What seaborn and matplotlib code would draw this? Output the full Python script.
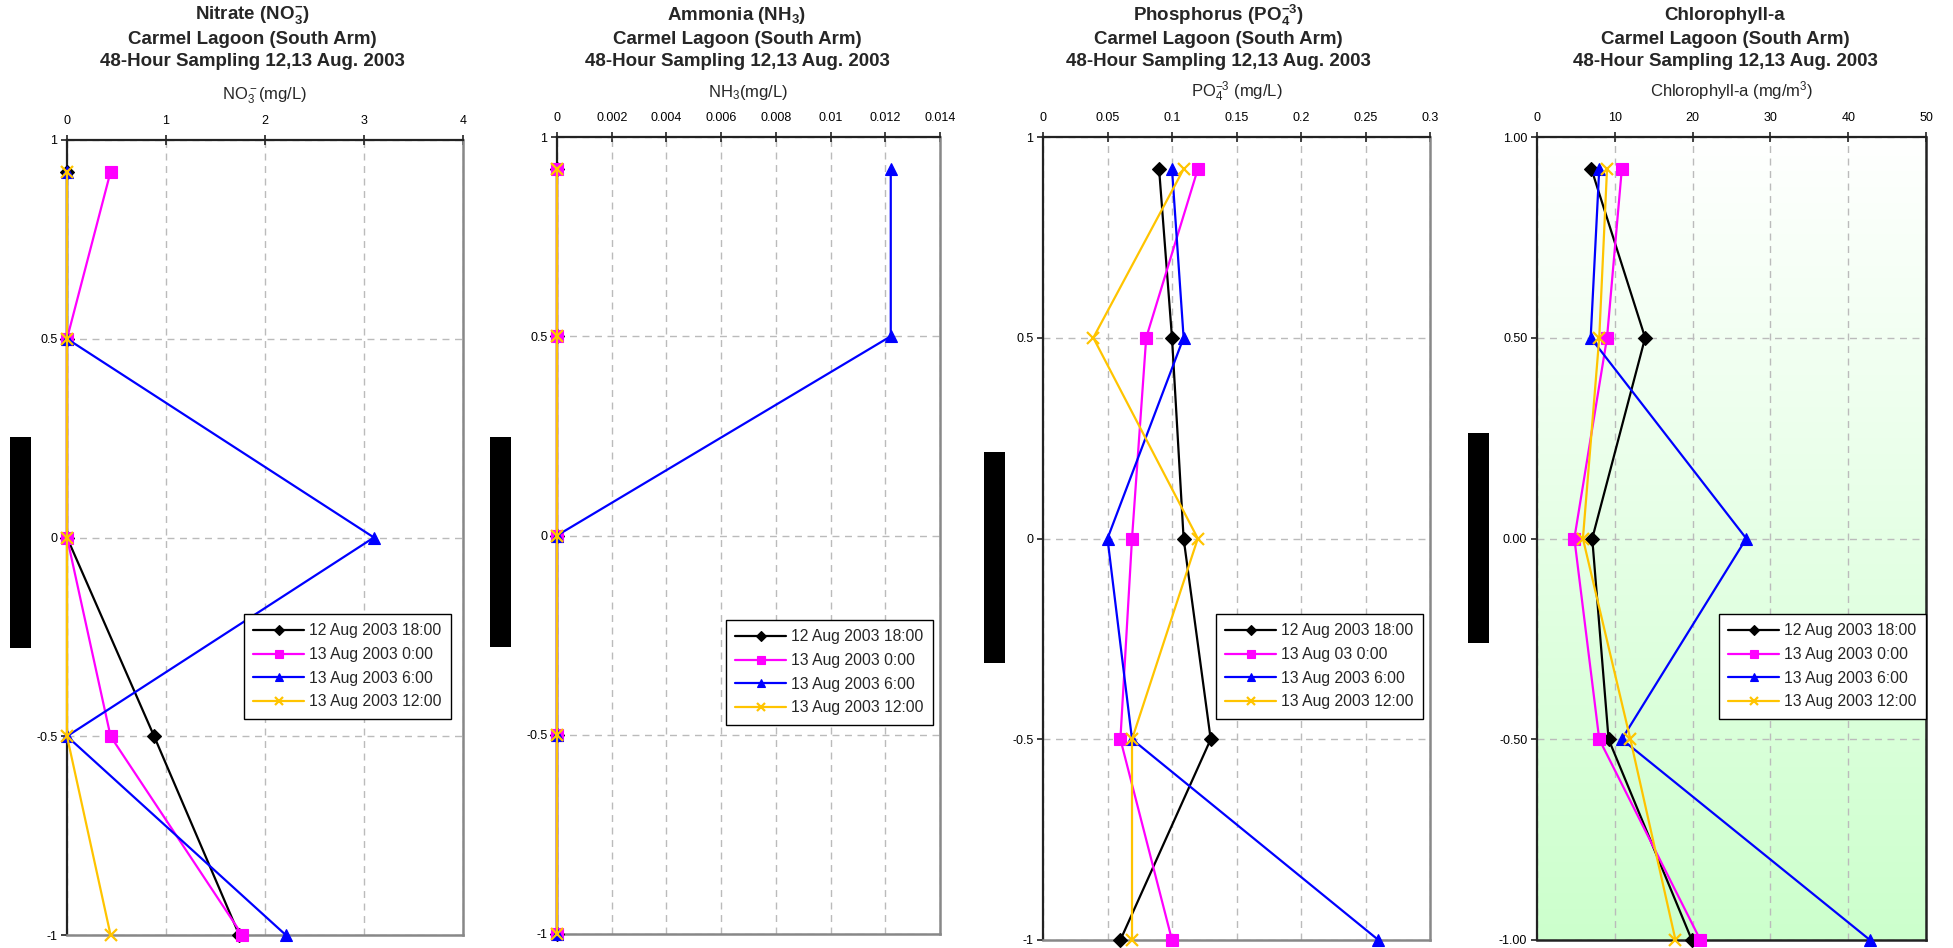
import matplotlib
matplotlib.use("Agg")
import matplotlib.pyplot as plt
import seaborn as sns
import numpy as np
from matplotlib.patches import Rectangle

# ---------------- data ----------------
depths = [0.92, 0.5, 0.0, -0.5, -1.0]
series_labels = ["12 Aug 2003 18:00", "13 Aug 2003 0:00", "13 Aug 2003 6:00", "13 Aug 2003 12:00"]
series_labels_p = ["12 Aug 2003 18:00", "13 Aug 03 0:00", "13 Aug 2003 6:00", "13 Aug 2003 12:00"]

nitrate_1800 = [0.0, 0.0, 0.0, 0.88, 1.74]
nitrate_0000 = [0.44, 0.0, 0.0, 0.44, 1.77]
nitrate_0600 = [0.0, 0.0, 3.10, 0.0, 2.21]
nitrate_1200 = [0.0, 0.0, 0.0, 0.0, 0.44]

ammonia_1800 = [0.0, 0.0, 0.0, 0.0, 0.0]
ammonia_0000 = [0.0, 0.0, 0.0, 0.0, 0.0]
ammonia_0600 = [0.0122, 0.0122, 0.0, 0.0, 0.0]
ammonia_1200 = [0.0, 0.0, 0.0, 0.0, 0.0]

phos_1800 = [0.090, 0.100, 0.109, 0.130, 0.060]
phos_0000 = [0.120, 0.080, 0.069, 0.060, 0.100]
phos_0600 = [0.100, 0.109, 0.050, 0.069, 0.260]
phos_1200 = [0.109, 0.039, 0.120, 0.069, 0.069]

chl_1800 = [7.0, 13.9, 7.1, 9.2, 19.9]
chl_0000 = [10.9, 9.0, 4.8, 8.0, 21.0]
chl_0600 = [8.0, 6.9, 26.9, 10.9, 42.8]
chl_1200 = [9.0, 8.0, 5.9, 12.0, 17.8]

nitrate_ticks = [0, 1, 2, 3, 4]
nitrate_ticklabels = ["0", "1", "2", "3", "4"]
ammonia_ticks = [0, 0.002, 0.004, 0.006, 0.008, 0.01, 0.012, 0.014]
ammonia_ticklabels = ["0", "0.002", "0.004", "0.006", "0.008", "0.01", "0.012", "0.014"]
phos_ticks = [0, 0.05, 0.1, 0.15, 0.2, 0.25, 0.3]
phos_ticklabels = ["0", "0.05", "0.1", "0.15", "0.2", "0.25", "0.3"]
chl_ticks = [0, 10, 20, 30, 40, 50]
chl_ticklabels = ["0", "10", "20", "30", "40", "50"]
depth_ticks = [1, 0.5, 0, -0.5, -1]
depth_ticklabels_a = ["1", "0.5", "0", "-0.5", "-1"]
depth_ticklabels_b = ["1.00", "0.50", "0.00", "-0.50", "-1.00"]

titles = [
    r"Nitrate (NO$_\mathbf{3}^\mathbf{-}$)",
    r"Ammonia (NH$_\mathbf{3}$)",
    r"Phosphorus (PO$_\mathbf{4}^\mathbf{-3}$)",
    "Chlorophyll-a",
]
subtitle1 = "Carmel Lagoon (South Arm)"
subtitle2 = "48-Hour Sampling 12,13 Aug. 2003"
xlabels = [r"NO$_3^-$(mg/L)", r"NH$_3$(mg/L)", r"PO$_4^{-3}$ (mg/L)", r"Chlorophyll-a (mg/m$^3$)"]

# ---------------- style ----------------
sns.set_style("white")
plt.rcParams["font.family"] = ["Liberation Sans", "DejaVu Sans"]
plt.rcParams["mathtext.fontset"] = "custom"
plt.rcParams["mathtext.rm"] = "Liberation Sans"
plt.rcParams["mathtext.it"] = "Liberation Sans:italic"
plt.rcParams["mathtext.bf"] = "Liberation Sans:bold"
plt.rcParams["mathtext.default"] = "regular"

colors = ["#000000", "#FF00FF", "#0000FF", "#FFC400"]
markers = ["D", "s", "^", "x"]
msizes = [7, 8.5, 8.5, 8.5]

W, H = 1953, 948
fig = plt.figure(figsize=(W / 100, H / 100), dpi=100)


def rect(l, t, r, b):
    return [l / W, 1 - b / H, (r - l) / W, (b - t) / H]


panels = [
    dict(rect=(67, 140, 463, 935), data=[nitrate_1800, nitrate_0000, nitrate_0600, nitrate_1200],
         xlim=(0, 4), xt=nitrate_ticks, xtl=nitrate_ticklabels, ytl=depth_ticklabels_a,
         labels=series_labels, leg=(244, 614), title_x=252, bar=(10, 437, 31, 648), green=False),
    dict(rect=(557, 137, 940, 934), data=[ammonia_1800, ammonia_0000, ammonia_0600, ammonia_1200],
         xlim=(0, 0.014), xt=ammonia_ticks, xtl=ammonia_ticklabels, ytl=depth_ticklabels_a,
         labels=series_labels, leg=(726, 620), title_x=737, bar=(490, 437, 511, 647), green=False),
    dict(rect=(1043, 137, 1430, 940), data=[phos_1800, phos_0000, phos_0600, phos_1200],
         xlim=(0, 0.3), xt=phos_ticks, xtl=phos_ticklabels, ytl=depth_ticklabels_a,
         labels=series_labels_p, leg=(1216, 614), title_x=1218, bar=(984, 452, 1005, 663), green=False),
    dict(rect=(1537, 137, 1926, 940), data=[chl_1800, chl_0000, chl_0600, chl_1200],
         xlim=(0, 50), xt=chl_ticks, xtl=chl_ticklabels, ytl=depth_ticklabels_b,
         labels=series_labels, leg=(1719, 614), title_x=1725, bar=(1468, 433, 1489, 643), green=True),
]

for i, p in enumerate(panels):
    ax = fig.add_axes(rect(*p["rect"]))
    ax.set_facecolor("white")
    if p["green"]:
        grad = np.linspace(0, 1, 256).reshape(-1, 1)
        top = np.array([1.0, 1.0, 1.0])
        bot = np.array([0.80, 1.0, 0.80])
        img = top[None, None, :] * (1 - grad[:, :, None]) + bot[None, None, :] * grad[:, :, None]
        ax.imshow(img, extent=[0, 1, 0, 1], transform=ax.transAxes, aspect="auto", zorder=0,
                  origin="upper")

    for vals, lab, col, mk, ms in zip(p["data"], p["labels"], colors, markers, msizes):
        sns.lineplot(x=vals, y=depths, sort=False, estimator=None, orient="y", ax=ax,
                     color=col, marker=mk, markersize=ms, linewidth=1.6,
                     markeredgecolor=col, markeredgewidth=1.6 if mk == "x" else 0.8,
                     label=lab, zorder=3, clip_on=False)

    ax.set_xlim(*p["xlim"])
    ax.set_ylim(-1, 1)
    ax.xaxis.tick_top()
    ax.xaxis.set_label_position("top")
    ax.set_xticks(p["xt"])
    ax.set_xticklabels(p["xtl"], fontsize=9)
    ax.set_yticks(depth_ticks)
    ax.set_yticklabels(p["ytl"], fontsize=9)
    ax.tick_params(axis="x", direction="inout", length=7, width=1.2, pad=6, colors="#222222",
                   labelcolor="black")
    ax.tick_params(axis="y", direction="out", length=4, width=1.2, pad=3, colors="#222222",
                   labelcolor="black", left=True)
    ax.set_xlabel(xlabels[i], fontsize=12, labelpad=11)
    ax.set_ylabel("")

    ax.grid(True, which="major", color="#BBBBBB", linestyle=(0, (5, 4)), linewidth=1.0)
    ax.set_axisbelow(True)
    for s in ["left", "top"]:
        ax.spines[s].set_color("#222222")
        ax.spines[s].set_linewidth(1.6)
    for s in ["right", "bottom"]:
        ax.spines[s].set_color("#222222" if p["green"] else "#888888")
        ax.spines[s].set_linewidth(1.8)
        ax.spines[s].set_visible(True)

    lx, ly = p["leg"]
    leg = ax.legend(loc="upper left", bbox_to_anchor=(lx / W, 1 - ly / H), bbox_transform=fig.transFigure,
                    borderaxespad=0, frameon=True, fancybox=False, framealpha=1, edgecolor="black",
                    fontsize=11.3, handlelength=3.2, handletextpad=0.35, borderpad=0.6,
                    labelspacing=0.55, markerscale=0.7)
    leg.get_frame().set_linewidth(1.0)
    leg.set_zorder(5)

    tx = p["title_x"] / W
    fig.text(tx, 1 - 15.5 / H, titles[i], ha="center", va="center", fontsize=13.5, fontweight="bold")
    fig.text(tx, 1 - 39 / H, subtitle1, ha="center", va="center", fontsize=13.5, fontweight="bold")
    fig.text(tx, 1 - 62 / H, subtitle2, ha="center", va="center", fontsize=13.5, fontweight="bold")

    bl, bt, br, bb = p["bar"]
    fig.patches.append(Rectangle((bl / W, 1 - bb / H), (br - bl) / W, (bb - bt) / H,
                                 transform=fig.transFigure, facecolor="black", edgecolor="none"))

fig.savefig("out.png", dpi=100, facecolor="white")
